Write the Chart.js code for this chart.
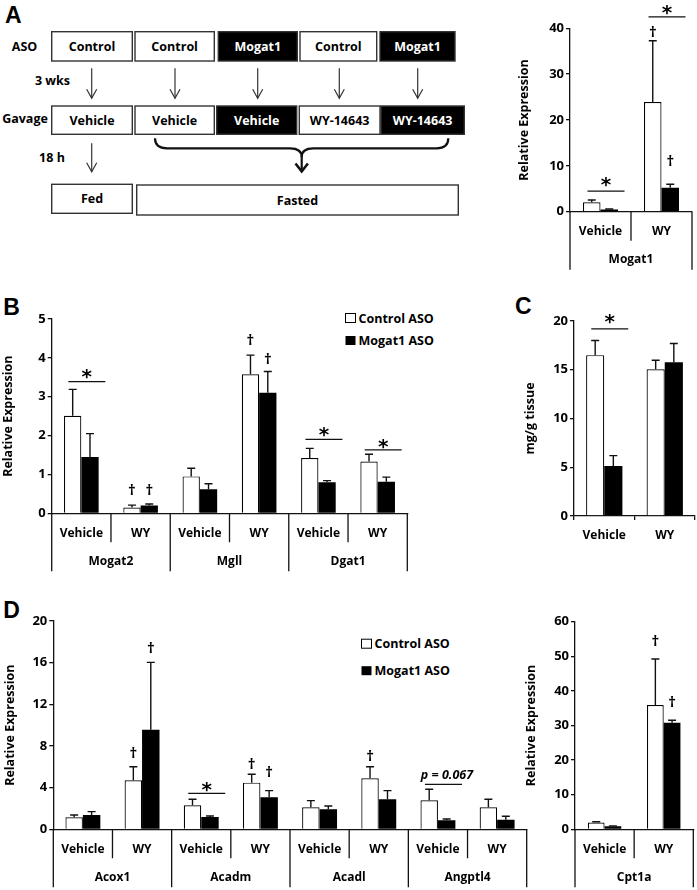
<!DOCTYPE html>
<html>
<head>
<meta charset="utf-8">
<script src="https://cdn.jsdelivr.net/npm/chart.js@4.4.1/dist/chart.umd.min.js"></script>
<style>
  body { margin: 0; background: #fff; width: 697px; height: 890px; position: relative; overflow: hidden; }
  canvas, svg { position: absolute; left: 0; top: 0; }
</style>
</head>
<body>
<svg id="scheme" width="697" height="890" font-family="Open Sans" font-weight="bold" font-size="12.5"></svg>
<canvas id="chartA"></canvas>
<canvas id="chartB"></canvas>
<canvas id="chartC"></canvas>
<canvas id="chartD"></canvas>
<canvas id="chartE"></canvas>
<script>
// ---- data ----
const groupCats = ['Vehicle', 'WY'];

// A: Mogat1
const mogat1Ctrl = [2.05, 23.9];
const mogat1CtrlErr = [0.5, 13.4];
const mogat1Aso = [0.5, 5.2];
const mogat1AsoErr = [0.1, 0.8];
const mogat1Daggers = [[1, 0, 39.0], [1, 1, 10.8]];      // [category, dataset, y]
const mogat1Stars = [[0, 4.5, 6.9], [1, 42.5, 44.4]];   // [category, line y, star y]

// B
const bCats = ['Vehicle', 'WY', 'Vehicle', 'WY', 'Vehicle', 'WY'];
const bGenes = ['Mogat2', 'Mgll', 'Dgat1'];
const bCtrl = [2.51, 0.15, 0.95, 3.58, 1.42, 1.33];
const bCtrlErr = [0.68, 0.06, 0.21, 0.49, 0.25, 0.19];
const bAso = [1.45, 0.2, 0.62, 3.1, 0.8, 0.81];
const bAsoErr = [0.6, 0.04, 0.14, 0.55, 0.04, 0.12];
const bDaggers = [[1, 0, 0.58], [1, 1, 0.58], [3, 0, 4.43], [3, 1, 3.96]];
const bStars = [[0, 3.39, 3.64], [4, 1.9, 2.14], [5, 1.63, 1.84]];

// C
const cCtrl = [16.5, 15.04];
const cCtrlErr = [1.5, 0.93];
const cAso = [5.13, 15.76];
const cAsoErr = [1.06, 1.94];
const cStars = [[0, 19.2, 20.4]];

// D
const dCats = ['Vehicle', 'WY', 'Vehicle', 'WY', 'Vehicle', 'WY', 'Vehicle', 'WY'];
const dGenes = ['Acox1', 'Acadm', 'Acadl', 'Angptl4'];
const dCtrl = [1.15, 4.7, 2.3, 4.48, 2.11, 4.9, 2.78, 2.11];
const dCtrlErr = [0.23, 1.3, 0.58, 0.8, 0.64, 1.1, 1.06, 0.77];
const dAso = [1.38, 9.57, 1.18, 3.07, 1.92, 2.88, 0.86, 0.92];
const dAsoErr = [0.32, 6.46, 0.1, 0.64, 0.32, 0.83, 0.13, 0.33];
const dDaggers = [[1, 0, 7.23], [1, 1, 17.37], [3, 0, 6.17], [3, 1, 5.43], [5, 0, 6.97]];
const dStars = [[2, 3.45, 4.25]];
const dNotes = [[6, 4.32, 5.14, 'p = 0.067']];

// D right: Cpt1a
const eCtrl = [1.93, 35.9];
const eCtrlErr = [0.27, 13.3];
const eAso = [0.87, 30.8];
const eAsoErr = [0.13, 0.7];
const eDaggers = [[1, 0, 54.2], [1, 1, 36.6]];

const AXIS = '#111';
const FONT = 'Open Sans';

// ---- schematic, letters, legends (svg) ----
const svg = document.getElementById('scheme');
const NS = 'http://www.w3.org/2000/svg';
function el(tag, attrs, text) {
  const e = document.createElementNS(NS, tag);
  for (const k in attrs) e.setAttribute(k, attrs[k]);
  if (text !== undefined) e.textContent = text;
  svg.appendChild(e);
  return e;
}
function box(x1, y1, x2, y2, dark, text) {
  el('rect', { x: x1, y: y1, width: x2 - x1, height: y2 - y1, fill: dark ? '#000' : '#fff', stroke: '#333', 'stroke-width': 1.4 });
  el('text', { x: (x1 + x2) / 2, y: (y1 + y2) / 2, 'text-anchor': 'middle', 'dominant-baseline': 'central', fill: dark ? '#fff' : '#000' }, text);
}
function arrow(x, y1, y2) {
  el('line', { x1: x, y1: y1, x2: x, y2: y2, stroke: '#333', 'stroke-width': 1.2 });
  el('polyline', { points: `${x - 5},${y2 - 9} ${x},${y2} ${x + 5},${y2 - 9}`, fill: 'none', stroke: '#333', 'stroke-width': 1.2 });
}
function label(x, y, text, anchor) {
  el('text', { x: x, y: y, 'text-anchor': anchor || 'middle', 'dominant-baseline': 'central' }, text);
}

box(51.7, 31.7, 132.3, 61, false, 'Control');
box(135, 31.7, 214.3, 61, false, 'Control');
box(218.3, 31.7, 297.3, 61, true, 'Mogat1');
box(300, 31.7, 376.7, 61, false, 'Control');
box(380, 31.7, 455, 61, true, 'Mogat1');
box(51.7, 106, 132.3, 134.3, false, 'Vehicle');
box(135, 106, 214.3, 134.3, false, 'Vehicle');
box(216.7, 106, 296.7, 134.3, true, 'Vehicle');
box(299.3, 106, 380, 134.3, false, 'WY-14643');
box(381, 106, 464.3, 134.3, true, 'WY-14643');
box(51.7, 184.3, 132.3, 213.3, false, 'Fed');
box(136.7, 185, 458.3, 215, false, 'Fasted');
[91.7, 175, 257.7, 339.3, 417.7].forEach(x => arrow(x, 68.3, 98.3));
arrow(91.7, 143.3, 171.7);
label(24.5, 46, 'ASO');
label(52.5, 80, '3 wks');
label(25, 118, 'Gavage');
label(52, 157, '18 h');
el('path', { d: 'M155,138.3 Q155,148.3 167,148.3 L290,148.3 Q301.7,148.3 301.7,157 Q301.7,148.3 313.3,148.3 L436.7,148.3 Q448.3,148.3 448.3,138.3', fill: 'none', stroke: '#111', 'stroke-width': 2.2 });
el('line', { x1: 301.7, y1: 156, x2: 301.7, y2: 171, stroke: '#111', 'stroke-width': 2.2 });
el('polyline', { points: '295.5,163.5 301.7,171.5 307.9,163.5', fill: 'none', stroke: '#111', 'stroke-width': 2.6 });

[['A', 5, 23.3], ['B', 3.3, 315], ['C', 515, 314], ['D', 3.3, 618.3]].forEach(([t, x, y]) => {
  el('text', { x: x, y: y, 'font-family': 'Liberation Sans', 'font-size': 23 }, t);
});

function legend(x, y1, y2) {
  el('rect', { x: x, y: y1 - 4.5, width: 10, height: 9, fill: '#fff', stroke: '#000', 'stroke-width': 1 });
  label(x + 13, y1, 'Control ASO', 'start');
  el('rect', { x: x, y: y2 - 4.5, width: 10, height: 9, fill: '#000' });
  label(x + 13, y2, 'Mogat1 ASO', 'start');
}
legend(345.5, 318, 340.5);
legend(361.5, 643.7, 670.7);

// ---- plugins ----
const errorBars = {
  id: 'errorBars',
  afterDatasetsDraw(chart, args, o) {
    const { ctx } = chart;
    const y = chart.scales.y;
    ctx.save();
    ctx.strokeStyle = '#111';
    ctx.lineWidth = 1.4;
    o.errors.forEach((errs, i) => {
      const meta = chart.getDatasetMeta(i);
      meta.data.forEach((bar, j) => {
        const v = chart.data.datasets[i].data[j];
        const top = y.getPixelForValue(v + errs[j]);
        ctx.beginPath();
        ctx.moveTo(bar.x, bar.y);
        ctx.lineTo(bar.x, top);
        ctx.moveTo(bar.x - 4, top);
        ctx.lineTo(bar.x + 4, top);
        ctx.stroke();
      });
    });
    ctx.restore();
  }
};

const groupAxis = {
  id: 'groupAxis',
  afterDraw(chart, args, o) {
    if (!o.groups) return;
    const { ctx } = chart;
    const x = chart.scales.x;
    const zero = chart.scales.y.getPixelForValue(0);
    const n = chart.data.labels.length;
    const edge = i => i === 0 ? x.left : i === n ? x.right : (x.getPixelForValue(i - 1) + x.getPixelForValue(i)) / 2;
    const per = n / o.groups.length;
    ctx.save();
    ctx.strokeStyle = AXIS;
    ctx.lineWidth = 1.3;
    ctx.beginPath();
    for (let i = 1; i < n; i++) {
      if (i % per === 0) continue;
      ctx.moveTo(edge(i), zero);
      ctx.lineTo(edge(i), zero + 29);
    }
    for (let g = 0; g <= o.groups.length; g++) {
      ctx.moveTo(edge(g * per), zero);
      ctx.lineTo(edge(g * per), zero + 58);
    }
    ctx.stroke();
    ctx.fillStyle = '#000';
    ctx.font = `bold 12px "${FONT}"`;
    ctx.textAlign = 'center';
    ctx.textBaseline = 'middle';
    o.groups.forEach((name, g) => {
      ctx.fillText(name, (edge(g * per) + edge((g + 1) * per)) / 2, zero + 48);
    });
    ctx.restore();
  }
};

const marks = {
  id: 'marks',
  afterDraw(chart, args, o) {
    const { ctx } = chart;
    const x = chart.scales.x, y = chart.scales.y;
    ctx.save();
    ctx.fillStyle = '#000';
    ctx.strokeStyle = AXIS;
    ctx.textAlign = 'center';
    (o.daggers || []).forEach(([c, ds, v]) => {
      const bx = chart.getDatasetMeta(ds).data[c].x;
      ctx.font = `bold 15px "${FONT}"`;
      ctx.textBaseline = 'middle';
      ctx.fillText('\u2020', bx, y.getPixelForValue(v));
    });
    (o.stars || []).forEach(([c, lv, sv]) => {
      const cx = x.getPixelForValue(c);
      const ly = y.getPixelForValue(lv);
      ctx.lineWidth = 1.3;
      ctx.beginPath();
      ctx.moveTo(cx - 13, ly);
      ctx.lineTo(cx + 24, ly);
      ctx.stroke();
      ctx.font = 'bold 20px "DejaVu Sans"';
      ctx.textBaseline = 'alphabetic';
      ctx.fillText('*', cx + 5.5, y.getPixelForValue(sv) + 10.8);
    });
    (o.notes || []).forEach(([c, lv, tv, text]) => {
      const cx = x.getPixelForValue(c);
      const ly = y.getPixelForValue(lv);
      ctx.lineWidth = 1.3;
      ctx.beginPath();
      ctx.moveTo(cx - 13, ly);
      ctx.lineTo(cx + 24, ly);
      ctx.stroke();
      ctx.font = `italic bold 12.5px "${FONT}"`;
      ctx.textBaseline = 'middle';
      ctx.fillText(text, cx + 9, y.getPixelForValue(tv));
    });
    ctx.restore();
  }
};

// ---- charts ----
// cb = canvas [x, y, w, h], area = [left, top, right, bottom] in page pixels
function barChart(id, cb, area, d) {
  const cv = document.getElementById(id);
  cv.width = cb[2];
  cv.height = cb[3];
  cv.style.left = cb[0] + 'px';
  cv.style.top = cb[1] + 'px';
  const yW = area[0] - cb[0];
  const padTop = area[1] - cb[1];
  const padRight = cb[0] + cb[2] - area[2];
  const xH = cb[1] + cb[3] - area[3];
  return new Chart(cv, {
    type: 'bar',
    data: {
      labels: d.cats,
      datasets: [
        { label: 'Control ASO', data: d.ctrl, backgroundColor: '#fff', borderColor: '#000', borderWidth: 1.2 },
        { label: 'Mogat1 ASO', data: d.aso, backgroundColor: '#000', borderColor: '#000', borderWidth: 0 }
      ]
    },
    options: {
      responsive: false,
      animation: false,
      layout: { padding: { left: 0, top: padTop, right: padRight, bottom: 0 } },
      datasets: { bar: { categoryPercentage: d.pct, barPercentage: 1 } },
      scales: {
        x: {
          grid: { display: !!d.xTicks, drawOnChartArea: false, drawTicks: !!d.xTicks, tickLength: 4, offset: true, color: AXIS, lineWidth: 1.3 },
          border: { display: true, color: AXIS, width: 1.3 },
          ticks: { padding: d.xTicks ? 8 : 13, color: '#000', font: { family: FONT, size: 12, weight: 'bold' }, maxRotation: 0, autoSkip: false },
          afterFit: s => { s.height = xH; }
        },
        y: {
          min: 0,
          max: d.max,
          ticks: { stepSize: d.step, padding: 2, color: '#000', font: { family: FONT, size: 13, weight: 'bold' } },
          grid: { drawOnChartArea: false, tickLength: 4, color: AXIS, lineWidth: 1.3 },
          border: { display: true, color: AXIS, width: 1.3 },
          title: { display: true, text: d.title, color: '#000', padding: { top: d.titlePad, bottom: 0 }, font: { family: FONT, size: 12.5, weight: 'bold' } },
          afterFit: s => { s.width = yW; }
        }
      },
      plugins: {
        legend: { display: false },
        tooltip: { enabled: false },
        errorBars: { errors: [d.ctrlErr, d.asoErr] },
        groupAxis: { groups: d.groups },
        marks: { daggers: d.daggers, stars: d.stars, notes: d.notes }
      }
    },
    plugins: [errorBars, groupAxis, marks]
  });
}

barChart('chartA', [517, 0, 180, 280], [570, 28.3, 692, 211.7], {
  cats: groupCats, ctrl: mogat1Ctrl, ctrlErr: mogat1CtrlErr, aso: mogat1Aso, asoErr: mogat1AsoErr,
  max: 40, step: 10, title: 'Relative Expression', titlePad: 0, pct: 0.574,
  groups: ['Mogat1'], daggers: mogat1Daggers, stars: mogat1Stars
});

barChart('chartB', [0, 290, 420, 290], [51.7, 319, 407.3, 513.3], {
  cats: bCats, ctrl: bCtrl, ctrlErr: bCtrlErr, aso: bAso, asoErr: bAsoErr,
  max: 5, step: 1, title: 'Relative Expression', titlePad: 0.5, pct: 0.584,
  groups: bGenes, daggers: bDaggers, stars: bStars
});

barChart('chartC', [521, 290, 176, 270], [574, 321, 695, 516], {
  cats: groupCats, ctrl: cCtrl, ctrlErr: cCtrlErr, aso: cAso, asoErr: cAsoErr,
  max: 20, step: 5, title: 'mg/g tissue', titlePad: 1.5, pct: 0.6,
  xTicks: true, stars: cStars
});

barChart('chartD', [0, 595, 530, 295], [53.3, 621, 526.7, 829.3], {
  cats: dCats, ctrl: dCtrl, ctrlErr: dCtrlErr, aso: dAso, asoErr: dAsoErr,
  max: 20, step: 4, title: 'Relative Expression', titlePad: 2.5, pct: 0.59,
  groups: dGenes, daggers: dDaggers, stars: dStars, notes: dNotes
});

barChart('chartE', [524, 595, 173, 295], [575, 621.7, 693.3, 829.3], {
  cats: groupCats, ctrl: eCtrl, ctrlErr: eCtrlErr, aso: eAso, asoErr: eAsoErr,
  max: 60, step: 10, title: 'Relative Expression', titlePad: 0, pct: 0.565,
  groups: ['Cpt1a'], daggers: eDaggers
});
</script>
</body>
</html>
